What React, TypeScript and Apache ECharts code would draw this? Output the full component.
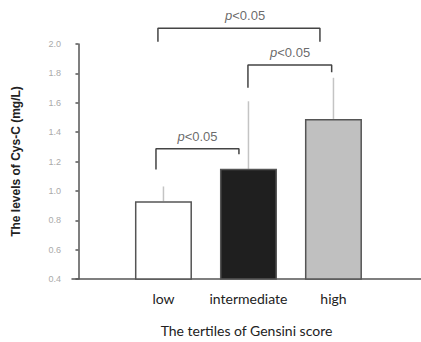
import React, { useEffect, useRef } from "react";
import * as echarts from "echarts";

const categories = ["low", "intermediate", "high"];
const categoryPos = [1, 2, 3];
const means = [0.93, 1.15, 1.49];
const errorTops = [1.03, 1.61, 1.77];
const barFills = ["#ffffff", "#1f1f1f", "#c0c0c0"];
const yTicks = { min: 0.4, max: 2.0, interval: 0.2 };

// significance brackets: [xLeft, xRight, yTop, yLeftEnd, yRightEnd, labelX, labelY]
const bracketLowInt = [0.912, 1.888, 1.287, 1.145, 1.249, 1.4, 1.37];
const bracketIntHigh = [1.994, 2.979, 1.857, 1.702, 1.807, 2.49, 1.94];
const bracketLowHigh = [0.935, 2.841, 2.108, 2.015, 2.015, 1.96, 2.195];
const brackets = [bracketLowInt, bracketIntHigh, bracketLowHigh];
const pLabel = "{i|p}<0.05";

export default function App() {
  const ref = useRef<HTMLDivElement>(null);
  useEffect(() => {
    if (!ref.current) return;
    const chart = echarts.init(ref.current, null, { renderer: "svg" });
    const bracketSeries = brackets.map((b) => ({
      type: "line",
      data: [
        [b[0], b[3]],
        [b[0], b[2]],
        [b[1], b[2]],
        [b[1], b[4]],
      ],
      symbol: "none",
      clip: false,
      silent: true,
      z: 5,
      lineStyle: { color: "#444", width: 1.5 },
    }));
    chart.setOption({
      animation: false,
      grid: { left: 72, right: 0, top: 44, bottom: 60, containLabel: false },
      xAxis: {
        type: "value",
        min: -0.076,
        max: 4.03,
        splitLine: { show: false },
        axisTick: { show: false },
        axisLine: { show: true, lineStyle: { color: "#555", width: 1.5 } },
        axisLabel: {
          customValues: categoryPos,
          formatter: (v: number) => categories[Math.round(v) - 1] ?? "",
          fontFamily: "Lato",
          fontSize: 14,
          color: "#222",
          margin: 12,
        },
        name: "The tertiles of Gensini score",
        nameLocation: "middle",
        nameGap: 44,
        nameTextStyle: { fontFamily: "Lato", fontSize: 14, color: "#222" },
      },
      yAxis: {
        type: "value",
        min: yTicks.min,
        max: yTicks.max,
        interval: yTicks.interval,
        splitLine: { show: false },
        axisLine: { show: true, lineStyle: { color: "#555", width: 1.5 } },
        axisTick: { show: true, length: 3, lineStyle: { color: "#555", width: 1.5 } },
        axisLabel: {
          formatter: (v: number) => v.toFixed(1),
          fontFamily: "Liberation Sans",
          fontSize: 9,
          color: "#aaa",
          margin: 11,
        },
        name: "The levels of Cys-C (mg/L)",
        nameLocation: "middle",
        nameGap: 50,
        nameTextStyle: {
          fontFamily: "Liberation Sans",
          fontSize: 12,
          fontWeight: "bold",
          color: "#222",
        },
      },
      series: [
        {
          type: "custom",
          silent: true,
          z: 1,
          data: categoryPos.map((x, i) => [x, means[i], errorTops[i]]),
          renderItem: (params: any, api: any) => {
            const p0 = api.coord([api.value(0), api.value(1)]);
            const p1 = api.coord([api.value(0), api.value(2)]);
            return {
              type: "group",
              children: [
                {
                  type: "line",
                  shape: { x1: p0[0], y1: p0[1], x2: p1[0], y2: p1[1] },
                  style: { stroke: "#c4c4c4", lineWidth: 1.5 },
                },
              ],
            };
          },
        },
        {
          type: "bar",
          barWidth: 57,
          z: 2,
          data: categoryPos.map((x, i) => ({
            value: [x, means[i]],
            itemStyle: { color: barFills[i], borderColor: "#555", borderWidth: 1.5 },
          })),
        },
        ...bracketSeries,
        {
          type: "scatter",
          symbolSize: 1,
          clip: false,
          silent: true,
          itemStyle: { color: "rgba(0,0,0,0)" },
          data: brackets.map((b) => [b[5], b[6]]),
          label: {
            show: true,
            position: "inside",
            formatter: pLabel,
            fontFamily: "Liberation Sans",
            fontSize: 13,
            color: "#444",
            rich: {
              i: { fontStyle: "italic", fontFamily: "Liberation Sans", fontSize: 13, color: "#444" },
            },
          },
        },
      ],
    });
    return () => chart.dispose();
  }, []);
  return (
    <div
      ref={ref}
      style={{ position: "fixed", left: 0, top: 0, width: 421, height: 342, background: "#fff" }}
    />
  );
}
